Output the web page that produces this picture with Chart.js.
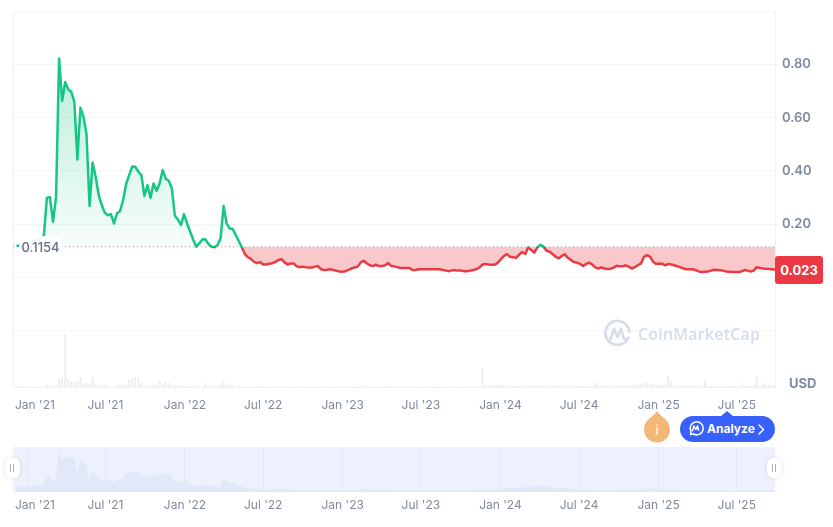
<!DOCTYPE html>
<html><head><meta charset="utf-8">
<script src="https://cdn.jsdelivr.net/npm/chart.js@4"></script>
<style>
html,body{margin:0;padding:0;background:#fff;width:833px;height:527px;overflow:hidden;font-family:Inter,sans-serif}
canvas{position:absolute;left:0;display:block}
.ov{position:absolute;box-sizing:border-box}
#plotFrame{left:13px;top:11px;width:762px;height:376px;border-left:1px solid #eff2f5}
#mapBg{left:13px;top:447px;width:762px;height:45px;background:#edf1fd}
#baseLabel{left:19px;top:236px;width:43px;height:22px;background:rgba(255,255,255,.93);border-radius:8px;color:#616e85;font-size:13px;font-weight:500;line-height:22px;text-align:center}
#lastBadge{left:775px;top:256px;width:48px;height:28px;background:#ea3943;border-radius:3px;color:#fff;font-size:13px;font-weight:700;line-height:28px;text-align:center}
#usd{left:789px;top:375px;color:#808a9d;font-size:13px;font-weight:700;line-height:16px}
#wm{left:638px;top:323px;color:#d6dde9;font-size:16px;font-weight:600;line-height:22px;letter-spacing:.2px;font-family:"Open Sans",Inter,sans-serif}
#btn{left:680px;top:416px;width:95px;height:26px;background:#3861fb;border-radius:13px;color:#fff;font-size:12px;font-weight:700;line-height:26px;padding-left:27px}
.handle{top:458px;width:15px;height:20px;background:#fff;border-radius:6px;box-shadow:0 0 4px rgba(88,102,126,.2)}
.handle:before,.handle:after{content:"";position:absolute;top:6px;height:8px;width:1px;background:#a6b0c3}
.handle:before{left:5px}.handle:after{left:8px}
svg{position:absolute;overflow:visible}
</style></head><body>
<div class="ov" id="plotFrame"></div>
<div class="ov" id="mapBg"></div>
<canvas id="main" width="833" height="527" style="top:0"></canvas>
<canvas id="map" width="833" height="80" style="top:447px"></canvas>
<div class="ov" id="baseLabel">0.1154</div>
<div class="ov" id="lastBadge">0.023</div>
<div class="ov" id="usd">USD</div>
<svg style="left:604px;top:320px" width="27" height="27" viewBox="0 0 27 27" fill="none" stroke="#d6dde9" stroke-width="2.6" stroke-linecap="round" stroke-linejoin="round">
<path d="M24.5 17.5A12 12 0 1 1 25.4 12"/><path d="M6.5 19 10 9l3.5 8L17 9l2.5 9c.6 1.6 2.6 1.6 4.5.3"/></svg>
<div class="ov" id="wm">CoinMarketCap</div>
<svg style="left:643px;top:410px" width="28" height="34" viewBox="0 0 28 34"><path d="M14 1C17 7 27 9 27 19.500A13 13 0 0 1 1 19.500C1 9 11 7 14 1Z" fill="#f5b778"/><text x="14" y="25" text-anchor="middle" fill="#fff" font-size="13" font-family="Inter">i</text></svg>
<svg style="left:720px;top:411px" width="14" height="6" viewBox="0 0 14 6"><path d="M0 6 7 0l7 6Z" fill="#3861fb"/></svg>
<div class="ov" id="btn">Analyze</div>
<svg style="left:688px;top:421px" width="15" height="15" viewBox="0 0 15 15" fill="none" stroke="#fff" stroke-width="1.5" stroke-linecap="round" stroke-linejoin="round"><path d="M2.500 13.500 3 10.500A6.500 6.500 0 1 1 5.500 13Z"/><path d="M4.500 9.500 6 5l1.800 3.500L9.500 5l1 4"/></svg>
<svg style="left:758px;top:424px" width="7" height="11" viewBox="0 0 7 11" fill="none" stroke="#fff" stroke-width="1.5" stroke-linecap="round" stroke-linejoin="round"><path d="M1 1l4.500 4.500L1 10"/></svg>
<div class="ov handle" style="left:5px"></div>
<div class="ov handle" style="left:767px"></div>
<script>
const baseValue = 0.1154;
const lastLabel = "0.023";
const firstWeekDay = -25;
const weekStepDays = 7.05;

const tickDates = ["2021-01-01","2021-07-01","2022-01-01","2022-07-01","2023-01-01","2023-07-01","2024-01-01","2024-07-01","2025-01-01","2025-07-01"];
const tickLabels = ["Jan '21","Jul '21","Jan '22","Jul '22","Jan '23","Jul '23","Jan '24","Jul '24","Jan '25","Jul '25"];
const yTicks = [1, 0.8, 0.6, 0.4, 0.2, 0, -0.2];

const price = [
.119,.119,.109,.094,.097,.128,.141,.143,.143,.159,
.299,.301,.209,.303,.822,.662,.734,.706,.697,.659,
.443,.637,.603,.537,.269,.432,.378,.309,.272,.243,
.234,.238,.203,.241,.249,.291,.351,.384,.417,.416,
.397,.384,.306,.347,.299,.353,.326,.353,.403,.371,
.363,.334,.232,.218,.197,.238,.203,.173,.143,.116,
.128,.143,.144,.126,.116,.114,.122,.147,.268,.203,
.184,.182,.159,.137,.113,.088,.076,.069,.059,.054,
.058,.049,.049,.052,.054,.059,.066,.069,.057,.049,
.053,.053,.042,.039,.041,.039,.038,.038,.041,.043,
.031,.028,.029,.031,.028,.026,.023,.022,.024,.029,
.034,.038,.041,.057,.063,.054,.046,.043,.048,.043,
.043,.046,.054,.044,.042,.039,.036,.036,.036,.036,
.028,.028,.031,.031,.031,.031,.031,.031,.031,.031,
.028,.026,.024,.027,.027,.026,.026,.024,.024,.026,
.028,.032,.038,.049,.051,.049,.048,.048,.056,.068,
.081,.088,.078,.076,.074,.086,.096,.088,.113,.103,
.094,.113,.123,.116,.101,.097,.088,.078,.072,.081,
.087,.074,.066,.058,.056,.051,.044,.051,.056,.049,
.038,.034,.038,.034,.032,.033,.037,.044,.042,.042,
.046,.041,.034,.039,.046,.053,.078,.084,.078,.059,
.051,.053,.052,.046,.051,.049,.046,.042,.038,.034,
.031,.031,.031,.028,.023,.021,.022,.023,.026,.029,
.028,.027,.026,.023,.022,.021,.021,.021,.023,.028,
.026,.023,.026,.039,.036,.034,.033,.032,.031,.029];

const volume = [
2,0,0,0,0,0,0,0,0,0,
4,4,2,4,25,28,158,22,15,15,
15,28,12,12,10,30,8,5,4,5,
5,0,0,4,5,6,8,20,25,28,
24,12,3,6,0,6,5,18,10,16,
12,6,5,4,3,3,0,0,3,3,
0,0,10,4,0,0,0,10,16,8,
5,4,0,3,0,0,0,0,0,2,
0,0,0,0,0,0,0,0,0,0,
0,0,0,0,0,0,0,0,0,0,
0,0,0,0,0,0,0,0,0,0,
0,0,0,4,3,0,0,0,0,0,
0,0,2,0,0,0,0,0,0,0,
0,0,0,0,0,0,0,0,0,0,
0,0,0,0,0,0,0,0,0,0,
0,0,0,55,5,5,5,5,5,5,
5,3,2,2,2,2,4,4,4,4,
4,4,4,4,4,4,3,3,3,3,
3,3,3,3,3,3,2,2,2,2,
12,3,3,3,3,3,3,3,3,3,
4,4,4,6,7,8,10,12,8,7,
5,5,5,5,32,15,4,4,4,4,
4,4,4,4,4,4,20,2,2,2,
2,2,2,2,2,2,2,2,12,4,
2,2,2,30,3,12,5,5,4,4];

const dayOf = s => (Date.parse(s) - Date.parse("2021-01-01")) / 86400000;
const weekDays = price.map((_, i) => firstWeekDay + i * weekStepDays);
const tickDays = tickDates.map(dayOf);
const priceData = price.map((v, i) => ({x: weekDays[i], y: v}));
const volumeData = volume.map((v, i) => ({x: weekDays[i], y: v}));
const xMin = -33, xMax = 1730.5;
const labelOf = v => { const i = tickDays.indexOf(v); return i < 0 ? "" : tickLabels[i]; };
const noPad = s => { s.paddingLeft = s.paddingRight = s.paddingTop = s.paddingBottom = 0; };

const clampFirstLabel = {
  id: "clampFirstLabel",
  afterLayout(chart) {
    const s = chart.scales.x, items = s.getLabelItems();
    if (!items.length) return;
    const ctx = chart.ctx;
    ctx.save(); ctx.font = "12px Inter";
    const w = ctx.measureText(items[0].label).width;
    ctx.restore();
    const left = items[0].options.translation[0] - w / 2;
    const minLeft = chart.chartArea.left + 2;
    if (left < minLeft) items[0].options.translation[0] += minLeft - left;
  }
};

const paintPrice = {
  id: "paintPrice",
  afterLayout(chart) {
    const ds = chart.data.datasets.find(d => d.label === "Price");
    const y = chart.scales.y, ctx = chart.ctx, area = chart.chartArea;
    const by = y.getPixelForValue(baseValue);
    const f = (by - area.top) / (area.bottom - area.top);
    const line = ctx.createLinearGradient(0, area.top, 0, area.bottom);
    line.addColorStop(0, "#16c784"); line.addColorStop(f, "#16c784");
    line.addColorStop(f, "#ea3943"); line.addColorStop(1, "#ea3943");
    ds.borderColor = line;
    const top = y.getPixelForValue(Math.max(...price));
    const up = ctx.createLinearGradient(0, top, 0, by);
    up.addColorStop(0, "rgba(22,199,132,.30)");
    up.addColorStop(1, "rgba(22,199,132,.03)");
    ds.fill = {value: baseValue, above: up, below: "rgba(234,57,67,.28)"};
  }
};

new Chart(document.getElementById("main"), {
  type: "line",
  data: {datasets: [
    {label: "Base", data: [{x: xMin, y: baseValue}, {x: xMax, y: baseValue}], borderColor: "rgba(128,120,130,.65)", borderWidth: 1, borderDash: [1, 3], pointRadius: 0, fill: false, order: 0},
    {label: "Price", data: priceData, borderWidth: 2.5, pointRadius: 0, tension: 0, borderJoinStyle: "round", order: 1},
    {type: "bar", label: "Volume", data: volumeData, yAxisID: "vol", backgroundColor: "#e8ebf0", barThickness: 1, order: 3}
  ]},
  options: {
    responsive: false, animation: false, events: [],
    layout: {padding: {left: 13, top: 11}},
    plugins: {legend: {display: false}, tooltip: {enabled: false}},
    scales: {
      x: {type: "linear", min: xMin, max: xMax, offset: false,
        afterBuildTicks: s => { s.ticks = tickDays.map(v => ({value: v})); },
        afterFit: s => { s.height = 140; noPad(s); },
        grid: {display: false}, border: {color: "#eff2f5"},
        ticks: {callback: labelOf, autoSkip: false, maxRotation: 0, padding: 3, color: "#808a9d", font: {family: "Inter", size: 12}}},
      y: {position: "right", min: -0.4106, max: 1,
        afterBuildTicks: s => { s.ticks = yTicks.map(v => ({value: v})); },
        afterFit: s => { s.width = 58; noPad(s); },
        grid: {color: "#f3f5f8", drawTicks: false}, border: {color: "#eff2f5"},
        ticks: {callback: v => (v > 0 && v < 1 ? v.toFixed(2) : ""), padding: 7, color: "#808a9d", font: {family: "Inter", size: 13, weight: "600"}}},
      vol: {display: false, min: 0, max: 1127}
    }
  },
  plugins: [clampFirstLabel, paintPrice]
});

new Chart(document.getElementById("map"), {
  type: "line",
  data: {datasets: [{label: "Overview", data: priceData, borderWidth: 0, pointRadius: 0, tension: 0.4, fill: "origin", backgroundColor: "#e1e8f7"}]},
  options: {
    responsive: false, animation: false, events: [],
    layout: {padding: {left: 13, right: 58}},
    plugins: {legend: {display: false}, tooltip: {enabled: false}},
    scales: {
      x: {type: "linear", min: xMin, max: xMax,
        afterBuildTicks: s => { s.ticks = tickDays.map(v => ({value: v})); },
        afterFit: s => { s.height = 35; noPad(s); },
        grid: {color: "#e3e8f5", drawTicks: false}, border: {display: false},
        ticks: {callback: labelOf, autoSkip: false, maxRotation: 0, padding: 6, color: "#808a9d", font: {family: "Inter", size: 12}}},
      y: {display: false, min: 0, max: 0.916}
    }
  },
  plugins: [clampFirstLabel]
});
</script>
</body></html>
